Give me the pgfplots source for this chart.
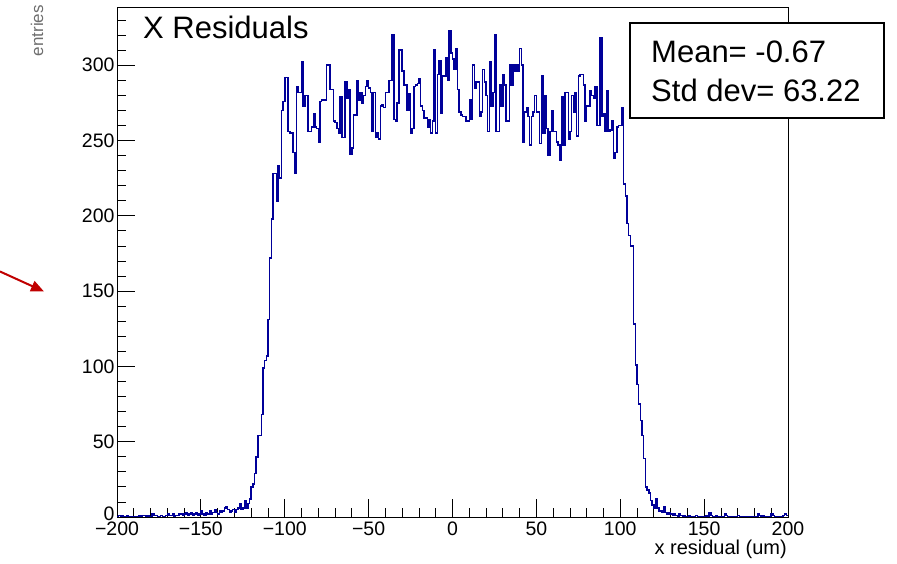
\documentclass[border=0pt]{standalone}
\usepackage{pgfplots}
\pgfplotsset{compat=1.18}
\usepackage{fontspec}
\setmainfont{Liberation Sans}
\usetikzlibrary{arrows.meta}
\definecolor{histblue}{RGB}{0,0,153}
\definecolor{arrowred}{RGB}{192,0,0}
\definecolor{labgray}{RGB}{110,110,110}
\begin{document}
\begin{tikzpicture}
\path[use as bounding box] (0,0) rectangle (897bp,564bp);
\begin{axis}[
  at={(117bp,47bp)}, anchor=south west,
  scale only axis, width=671bp, height=509bp,
  xmin=-200, xmax=200, ymin=0, ymax=338,
  xtick={-200,-150,...,200},
  xticklabels={−200,−150,−100,−50,0,50,100,150,200},
  minor xtick={-190,-180,...,190},
  ytick={0,50,...,300},
  yticklabels={\raisebox{7bp}{0},50,100,150,200,250,300},
  minor ytick={10,20,...,330},
  tick align=inside, tick pos=left,
  major tick length=18bp, minor tick length=9bp,
  every tick/.style={black, line width=0.8bp},
  axis line style={line width=1bp},
  tick label style={font=\fontsize{19.5bp}{23bp}\selectfont},
  yticklabel style={xshift=1bp},
  xticklabel style={yshift=-1bp},
  /pgf/number format/assume math mode=true,
]
\addplot[const plot, histblue, line width=1.5bp] coordinates {
(-200,0)(-199,1)(-198,0)(-197,1)(-196,0)(-195,0)(-194,1)(-193,0)(-192,0)(-191,0)(-190,0)(-189,0)(-188,0)(-187,1)(-186,0)(-185,1)(-184,1)(-183,0)(-182,1)(-181,0)(-180,0)(-179,2)(-178,1)(-177,1)(-176,0)
(-175,0)(-174,1)(-173,0)(-172,0)(-171,1)(-170,2)(-169,1)(-168,1)(-167,2)(-166,0)(-165,1)(-164,1)(-163,2)(-162,2)(-161,1)(-160,2)(-159,3)(-158,1)(-157,2)(-156,3)(-155,1)(-154,2)(-153,3)(-152,1)(-151,2)
(-150,4)(-149,2)(-148,1)(-147,3)(-146,2)(-145,4)(-144,2)(-143,3)(-142,5)(-141,3)(-140,2)(-139,4)(-138,3)(-137,4)(-136,6)(-135,7)(-134,5)(-133,3)(-132,4)(-131,5)(-130,3)(-129,5)(-128,6)(-127,9)(-126,5)
(-125,6)(-124,11)(-123,6)(-122,9)(-121,12)(-120,20)(-119,22)(-118,29)(-117,40)(-116,54)(-115,54)(-114,68)(-113,99)(-112,104)(-111,107)(-110,131)(-109,172)(-108,198)(-107,228)(-106,228)(-105,210)(-104,233)(-103,225)(-102,270)(-101,276)
(-100,292)(-99,292)(-98,256)(-97,255)(-96,255)(-95,242)(-94,228)(-93,286)(-92,282)(-91,282)(-90,302)(-89,273)(-88,280)(-87,280)(-86,256)(-85,256)(-84,259)(-83,268)(-82,259)(-81,258)(-80,249)(-79,276)(-78,277)(-77,277)(-76,277)
(-75,300)(-74,300)(-73,284)(-72,284)(-71,263)(-70,262)(-69,258)(-68,255)(-67,279)(-66,252)(-65,252)(-64,289)(-63,278)(-62,284)(-61,241)(-60,245)(-59,267)(-58,267)(-57,290)(-56,277)(-55,282)(-54,275)(-53,280)(-52,286)(-51,290)
(-50,285)(-49,282)(-48,256)(-47,282)(-46,252)(-45,255)(-44,251)(-43,273)(-42,274)(-41,272)(-40,282)(-39,282)(-38,290)(-37,290)(-36,320)(-35,264)(-34,263)(-33,275)(-32,310)(-31,310)(-30,296)(-29,287)(-28,287)(-27,270)(-26,281)
(-25,255)(-24,258)(-23,286)(-22,287)(-21,288)(-20,291)(-19,273)(-18,270)(-17,265)(-16,265)(-15,259)(-14,264)(-13,255)(-12,263)(-11,310)(-10,255)(-9,294)(-8,303)(-7,268)(-6,293)(-5,293)(-4,305)(-3,290)(-2,323)(-1,308)
(0,304)(1,297)(2,311)(3,284)(4,269)(5,267)(6,266)(7,266)(8,263)(9,263)(10,277)(11,264)(12,300)(13,285)(14,289)(15,289)(16,266)(17,269)(18,297)(19,289)(20,280)(21,256)(22,302)(23,273)(24,282)
(25,320)(26,256)(27,256)(28,287)(29,273)(30,294)(31,287)(32,263)(33,263)(34,300)(35,287)(36,300)(37,296)(38,300)(39,296)(40,311)(41,300)(42,249)(43,269)(44,272)(45,266)(46,247)(47,266)(48,269)(49,280)
(50,269)(51,269)(52,248)(53,293)(54,255)(55,280)(56,258)(57,240)(58,256)(59,270)(60,256)(61,256)(62,249)(63,247)(64,237)(65,279)(66,247)(67,282)(68,282)(69,251)(70,256)(71,280)(72,269)(73,282)(74,253)
(75,293)(76,294)(77,294)(78,287)(79,263)(80,273)(81,273)(82,283)(83,280)(84,278)(85,286)(86,260)(87,260)(88,318)(89,266)(90,268)(91,256)(92,283)(93,256)(94,257)(95,263)(96,238)(97,242)(98,259)(99,260)
(100,260)(101,272)(102,221)(103,213)(104,195)(105,187)(106,180)(107,180)(108,128)(109,101)(110,88)(111,75)(112,64)(113,54)(114,39)(115,20)(116,18)(117,16)(118,11)(119,8)(120,6)(121,12)(122,6)(123,4)(124,4)
(125,3)(126,7)(127,3)(128,2)(129,3)(130,2)(131,1)(132,2)(133,1)(134,0)(135,2)(136,1)(137,0)(138,1)(139,0)(140,0)(141,1)(142,0)(143,0)(144,0)(145,1)(146,0)(147,0)(148,0)(149,0)
(150,0)(151,1)(152,0)(153,3)(154,1)(155,0)(156,0)(157,1)(158,0)(159,0)(160,0)(161,0)(162,2)(163,1)(164,0)(165,0)(166,0)(167,0)(168,0)(169,0)(170,1)(171,0)(172,0)(173,0)(174,0)
(175,0)(176,0)(177,0)(178,0)(179,0)(180,0)(181,0)(182,2)(183,1)(184,0)(185,1)(186,0)(187,0)(188,0)(189,0)(190,2)(191,1)(192,0)(193,0)(194,0)(195,0)(196,0)(197,1)(198,2)(199,1)(200,1)
};
\end{axis}
% titles and labels
\node[anchor=base west, inner sep=0pt, font=\fontsize{31bp}{36bp}\selectfont] at (143bp,525bp) {X Residuals};
\node[anchor=base east, inner sep=0pt, font=\fontsize{20bp}{24bp}\selectfont] at (787bp,10bp) {x residual (um)};
\node[anchor=base east, inner sep=0pt, rotate=90, text=labgray, font=\fontsize{17bp}{20bp}\selectfont] at (43bp,559bp) {entries};
% stats box
\draw[fill=white, line width=1.5bp] (630bp,446bp) rectangle (884bp,541bp);
\node[anchor=base west, inner sep=0pt, font=\fontsize{31bp}{36bp}\selectfont] at (651bp,501bp) {Mean= -0.67};
\node[anchor=base west, inner sep=0pt, font=\fontsize{31bp}{36bp}\selectfont] at (651bp,462bp) {Std dev= 63.22};
% annotation arrow
\draw[arrowred, line width=2bp, -{Triangle[length=13bp, width=11bp]}] (0bp,292.5bp) -- (44bp,272.5bp);
\end{tikzpicture}
\end{document}
